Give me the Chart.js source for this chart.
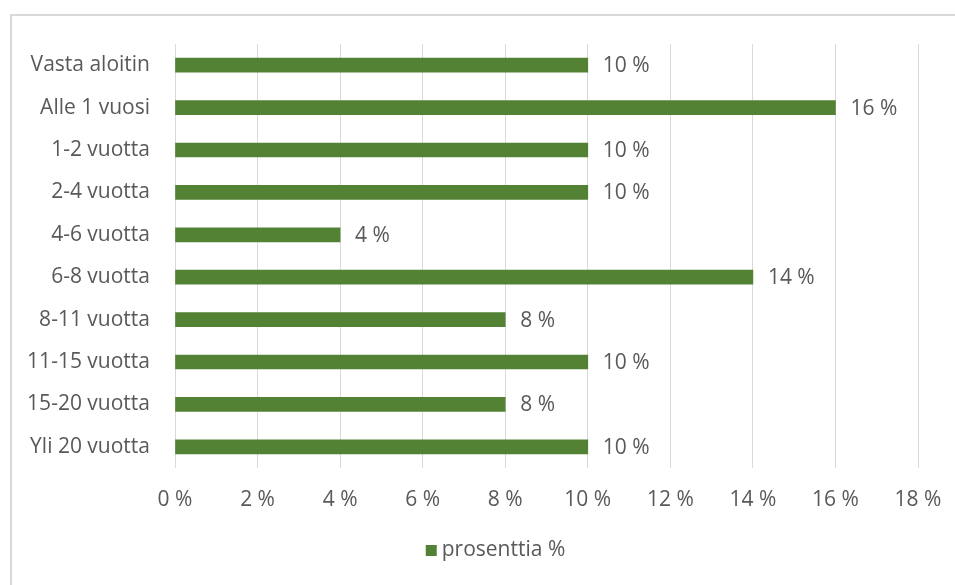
<!DOCTYPE html>
<html>
<head>
<meta charset="utf-8">
<script src="https://cdn.jsdelivr.net/npm/chart.js@4/dist/chart.umd.min.js"></script>
<style>
  html, body { margin: 0; padding: 0; background: #fff; }
  #wrap { position: relative; width: 955px; height: 585px; overflow: hidden; }
  #frame { position: absolute; left: 10px; top: 14px; width: 960px; height: 600px;
           border-left: 2px solid #d9d9d9; border-top: 2px solid #d9d9d9; }
  canvas { position: absolute; left: 0; top: 0; }
</style>
</head>
<body>
<div id="wrap">
  <div id="frame"></div>
  <canvas id="myChart" width="955" height="585"></canvas>
</div>
<script>
// chart data
const categories = ["Vasta aloitin", "Alle 1 vuosi", "1-2 vuotta", "2-4 vuotta", "4-6 vuotta",
  "6-8 vuotta", "8-11 vuotta", "11-15 vuotta", "15-20 vuotta", "Yli 20 vuotta"];
const values = [10, 16, 10, 10, 4, 14, 8, 10, 8, 10];
const seriesName = "prosenttia %";
const xTicks = [0, 2, 4, 6, 8, 10, 12, 14, 16, 18];

const textColor = "#595959";
const barColor = "#548235";
const fontFamily = "'Open Sans', sans-serif";
const fontSize = 21;

// draws "10 %" style labels right of every bar
const barLabels = {
  id: "barLabels",
  afterDatasetsDraw(chart) {
    const ctx = chart.ctx;
    const meta = chart.getDatasetMeta(0);
    ctx.save();
    ctx.font = fontSize + "px " + fontFamily;
    ctx.fillStyle = textColor;
    ctx.textBaseline = "middle";
    ctx.textAlign = "left";
    meta.data.forEach((bar, i) => {
      ctx.fillText(values[i] + " %", bar.x + 15, bar.y + 1);
    });
    ctx.restore();
  },
};

// small legend under the axis (Excel style: square close to the text)
const bottomLegend = {
  id: "bottomLegend",
  afterDraw(chart) {
    const ctx = chart.ctx;
    const ds = chart.data.datasets[0];
    ctx.save();
    ctx.font = fontSize + "px " + fontFamily;
    const textW = ctx.measureText(ds.label).width;
    const total = 11 + 5 + textW;
    const x = chart.width / 2 + 18 - total / 2;
    const y = 550;
    ctx.fillStyle = ds.backgroundColor;
    ctx.fillRect(x, y - 5, 11, 11);
    ctx.fillStyle = textColor;
    ctx.textBaseline = "middle";
    ctx.fillText(ds.label, x + 16, y);
    ctx.restore();
  },
};

const ctx = document.getElementById("myChart").getContext("2d");
const chart = new Chart(ctx, {
  type: "bar",
  data: {
    labels: categories,
    datasets: [
      {
        label: seriesName,
        data: values,
        backgroundColor: barColor,
        barThickness: 14,
      },
    ],
  },
  options: {
    indexAxis: "y",
    responsive: false,
    animation: false,
    layout: { padding: { left: 0, right: 37, top: 44, bottom: 56 } },
    plugins: {
      tooltip: { enabled: false },
      legend: { display: false },
    },
    scales: {
      x: {
        min: 0,
        max: 18,
        afterBuildTicks(axis) {
          axis.ticks = xTicks.map((v) => ({ value: v }));
        },
        afterFit(axis) {
          axis.height = 61;
          axis.paddingLeft = 0;
          axis.paddingRight = 0;
        },
        grid: { color: "#d9d9d9", drawTicks: false },
        border: { display: false },
        ticks: {
          padding: 19,
          color: textColor,
          font: { family: fontFamily, size: fontSize },
          callback: (v) => v + " %",
        },
      },
      y: {
        afterFit(axis) {
          axis.width = 175;
        },
        grid: { display: false },
        border: { display: false },
        ticks: {
          padding: 17,
          color: textColor,
          font: { family: fontFamily, size: fontSize },
        },
      },
    },
  },
  plugins: [barLabels, bottomLegend],
});
</script>
</body>
</html>
